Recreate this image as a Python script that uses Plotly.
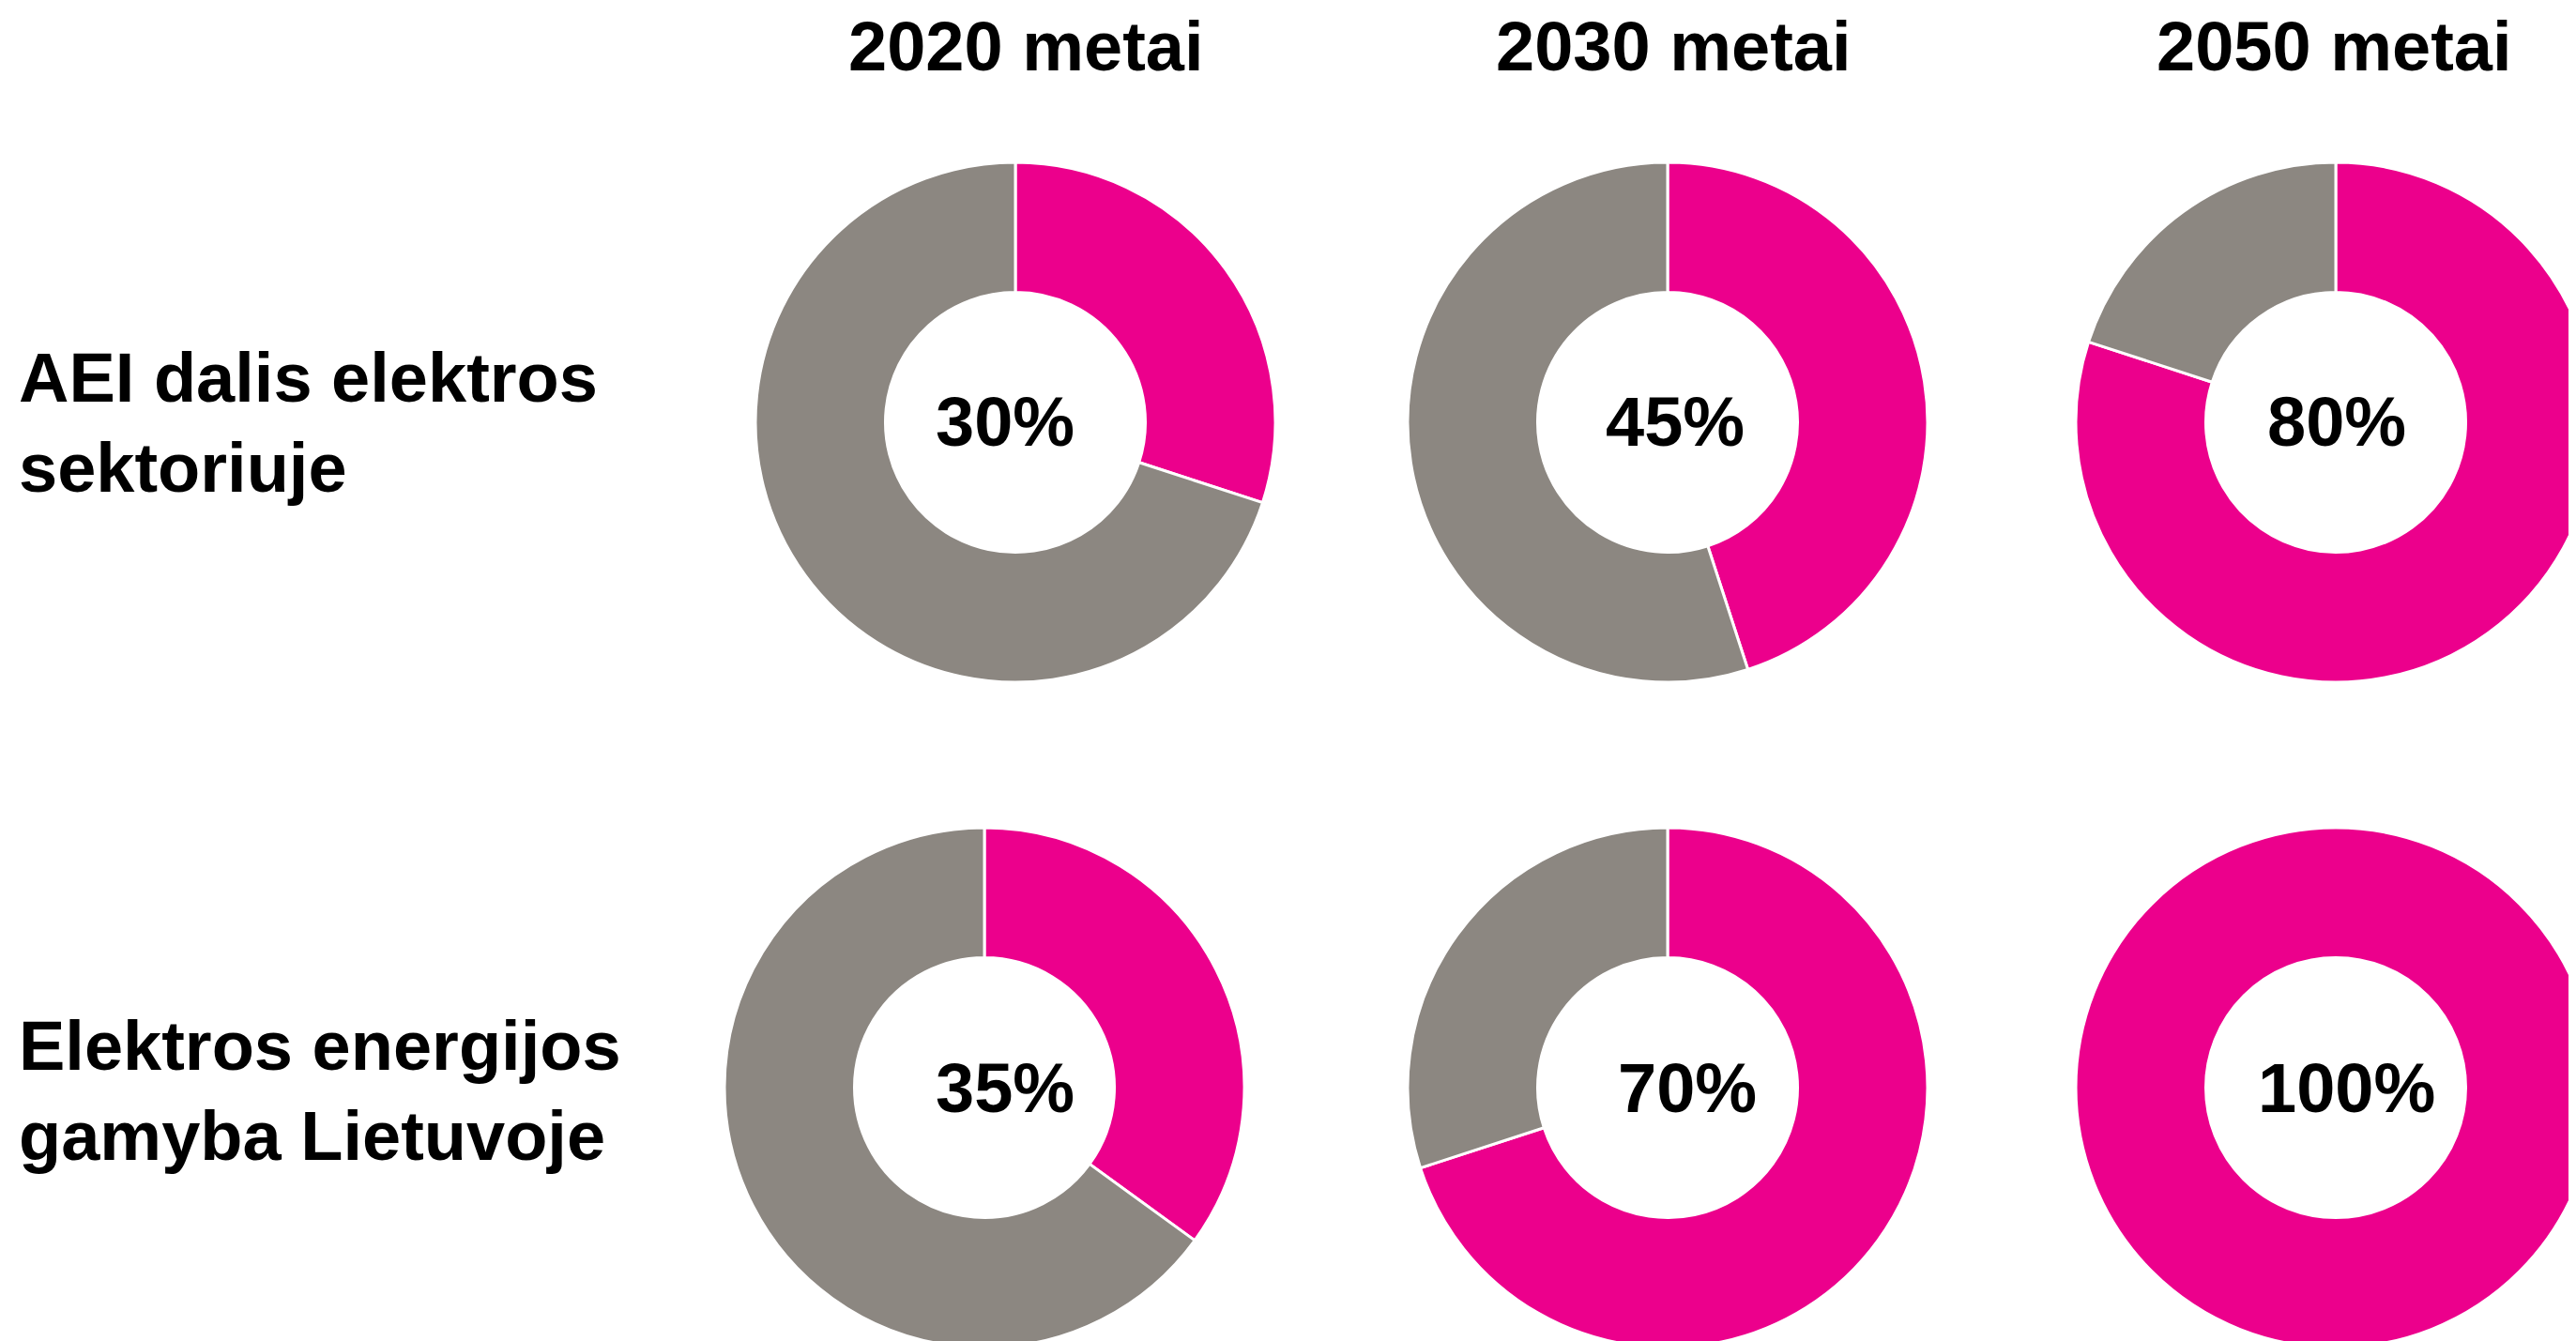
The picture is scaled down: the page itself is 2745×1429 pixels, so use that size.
import plotly.graph_objects as go

# ---- data ----
years = ["2020 metai", "2030 metai", "2050 metai"]
row_labels = ["AEI dalis elektros<br>sektoriuje", "Elektros energijos<br>gamyba Lietuvoje"]
aei_share_electricity = [30, 45, 80]      # % AEI share in electricity sector
lt_generation_share = [35, 70, 100]       # % electricity generated in Lithuania
slice_names = ["Dalis", "Likutis"]
rows = [aei_share_electricity, lt_generation_share]

# ---- style / layout (screen pixel positions) ----
MAGENTA = "#EC008C"
GREY = "#8C8781"
OFF = 8                      # page body margin
W, H = 2800, 1460            # figure larger than window -> right/bottom pies clipped like the original
R = 277
col_cx = [[1082, 1777, 2489], [1049, 1777, 2489]]
row_cy = [450, 1159]
label_xy = [[(1071, 450), (1785, 450), (2490, 450)],
            [(1071, 1159), (1798, 1159), (2500, 1159)]]
row_label_y = [451, 1162]
row_label_x = 18
title_x = [1093, 1783, 2487]
title_y = 49
FONT = "Liberation Sans, Arial, sans-serif"


def px(x):
    return (x - OFF) / W


def py(y):
    return 1 - (y - OFF) / H


fig = go.Figure()
annotations = []
for ri, vals in enumerate(rows):
    for ci, v in enumerate(vals):
        cx, cy = col_cx[ri][ci] - OFF, row_cy[ri] - OFF
        vs = [v, 100 - v]
        names = slice_names
        cols = [MAGENTA, GREY]
        if 100 - v <= 0:
            vs, names, cols = [v], slice_names[:1], [MAGENTA]
        fig.add_trace(go.Pie(
            values=vs,
            labels=names,
            marker=dict(colors=cols, line=dict(color="white", width=3)),
            hole=0.5,
            sort=False,
            direction="clockwise",
            rotation=0,
            textinfo="none",
            hoverinfo="label+value",
            showlegend=False,
            domain=dict(x=[(cx - R) / W, (cx + R) / W], y=[1 - (cy + R) / H, 1 - (cy - R) / H]),
        ))
        lx, ly = label_xy[ri][ci]
        annotations.append(dict(
            x=px(lx), y=py(ly), xref="paper", yref="paper",
            text=f"<b>{v}%</b>", showarrow=False, xanchor="center", yanchor="middle",
            font=dict(family=FONT, size=74, color="black"),
        ))
    annotations.append(dict(
        x=px(row_label_x), y=py(row_label_y[ri]), xref="paper", yref="paper",
        text=f"<b>{row_labels[ri]}</b>", showarrow=False, xanchor="left", yanchor="middle",
        align="left", font=dict(family=FONT, size=74, color="black"),
    ))

for ci, t in enumerate(years):
    annotations.append(dict(
        x=px(title_x[ci]), y=py(title_y), xref="paper", yref="paper",
        text=f"<b>{t}</b>", showarrow=False, xanchor="center", yanchor="middle",
        font=dict(family=FONT, size=74, color="black"),
    ))

fig.update_layout(
    width=W, height=H,
    margin=dict(l=0, r=0, t=0, b=0),
    paper_bgcolor="white", plot_bgcolor="white",
    showlegend=False,
    annotations=annotations,
)

fig.write_html("out.html", post_script="document.documentElement.style.overflow='hidden';document.body.style.overflow='hidden';")
